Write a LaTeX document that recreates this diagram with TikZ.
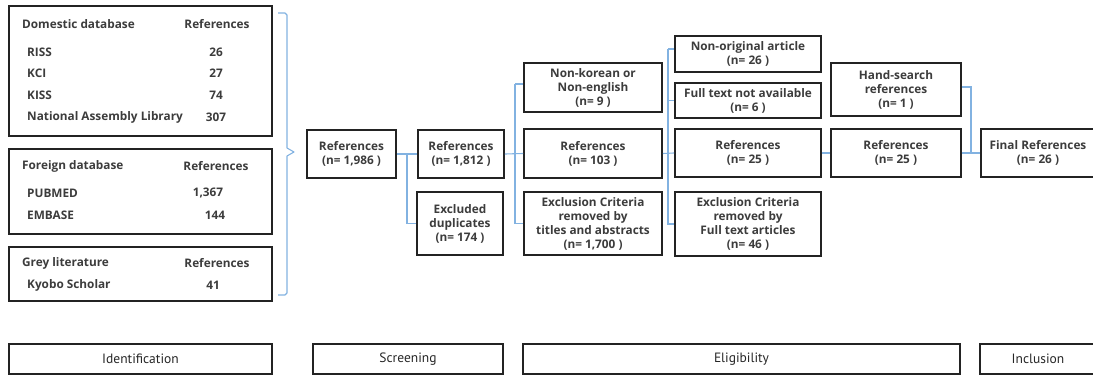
\documentclass[tikz,border=0pt]{standalone}
\usepackage{fontspec}
\setmainfont{Open Sans}
\newfontfamily\condfont{PT Sans}
\definecolor{txt}{RGB}{60,60,60}
\definecolor{conn}{RGB}{130,178,225}
\definecolor{bord}{RGB}{35,35,35}
\begin{document}
\begin{tikzpicture}[x=1pt,y=-1pt,
  every node/.style={font=\bfseries\fontsize{11.8}{14}\selectfont, text=txt, inner sep=0pt},
  box/.style={draw=bord, line width=1.9pt, align=center},
  stage/.style={draw=bord, line width=1.9pt, minimum height=30pt, text=black!85, font=\condfont\fontsize{13.5}{14}\selectfont},
  link/.style={draw=conn, line width=1.1pt},
  lbl/.style={anchor=west},
  val/.style={anchor=center}]
\useasboundingbox (0,0) rectangle (1093,375);

% source database boxes
\node[box, minimum width=263pt, minimum height=130pt] (dom) at (140.5,71) {};
\node[box, minimum width=263pt, minimum height=85pt] (for) at (140.5,191.5) {};
\node[box, minimum width=263pt, minimum height=54pt] (grey) at (140.5,274) {};

\node[lbl] (domh) at (22,24) {Domestic database};
\node[val] (domr) at (217,24) {References};
\node[lbl] (riss) at (27,52) {RISS};
\node[val] (rissv) at (216,52) {26};
\node[lbl] (kci) at (27,73) {KCI};
\node[val] (kciv) at (216,73) {27};
\node[lbl] (kiss) at (27,95) {KISS};
\node[val] (kissv) at (216,95) {74};
\node[lbl] (nal) at (27,117) {National Assembly Library};
\node[val] (nalv) at (216,117) {307};

\node[lbl] (forh) at (22,166) {Foreign database};
\node[val] (forr) at (216,166) {References};
\node[lbl] (pub) at (27,193) {PUBMED};
\node[val] (pubv) at (208,193) {1,367};
\node[lbl] (emb) at (27,215) {EMBASE};
\node[val] (embv) at (215,215) {144};

\node[lbl] (greyh) at (22,263) {Grey literature};
\node[val] (greyr) at (217,263) {References};
\node[lbl] (kyo) at (27,285) {Kyobo Scholar};
\node[val] (kyov) at (213,285) {41};

% brace
\coordinate (bt) at (278,13);
\coordinate (bb) at (278,295);
\coordinate (btip) at (294,152);
\draw[link, line join=round] (bt) -- (285,13) -- (287,15) -- (287,148) -- (btip) -- (287,156) -- (287,293) -- (285,295) -- (bb);

% flow boxes
\node[box, minimum width=89pt, minimum height=48pt] (r1986) at (351.5,154) {References\\(n= 1,986 )};
\node[box, minimum width=86pt, minimum height=48pt] (r1812) at (461,154) {References\\(n= 1,812 )};
\node[box, minimum width=86pt, minimum height=63pt] (dup) at (460,223.5) {Excluded\\duplicates\\(n= 174 )};
\node[box, minimum width=138pt, minimum height=49pt] (nonk) at (593,87.5) {Non-korean or\\Non-english\\(n= 9 )};
\node[box, minimum width=138pt, minimum height=49pt] (r103) at (593,153.5) {References\\(n= 103 )};
\node[box, minimum width=138pt, minimum height=63pt] (exc1) at (593,223.5) {Exclusion Criteria\\removed by\\titles and abstracts\\(n= 1,700 )};
\node[box, minimum width=146pt, minimum height=36pt] (nonorig) at (748,54) {Non-original article\\(n= 26 )};
\node[box, minimum width=146pt, minimum height=35pt] (fulltext) at (748,100.5) {Full text not available\\(n= 6 )};
\node[box, minimum width=146pt, minimum height=48pt] (r25a) at (748,153) {References\\(n= 25 )};
\node[box, minimum width=146pt, minimum height=64pt] (exc2) at (748,224) {Exclusion Criteria\\removed by\\Full text articles\\(n= 46 )};
\node[box, minimum width=130pt, minimum height=53pt] (hand) at (896,89.5) {Hand-search\\references\\(n= 1 )};
\node[box, minimum width=130pt, minimum height=48pt] (r25b) at (896,153) {References\\(n= 25 )};
\node[box, minimum width=114pt, minimum height=48pt] (final) at (1038,153) {Final References\\(n= 26 )};

% stage boxes
\node[stage, minimum width=263pt] (ident) at (140.5,359) {Identification};
\node[stage, minimum width=190pt] (screen) at (408,359) {Screening};
\node[stage, minimum width=437pt] (elig) at (741.5,359) {Eligibility};
\node[stage, minimum width=116pt] (incl) at (1038,359) {Inclusion};

% connectors
\draw[link] (r1986.east) -- (r1812.west);
\draw[link] (r1986.east -| 407,0) |- (dup.west);
\draw[link] (r1812.east) -- (r103.west);
\draw[link] ([yshift=3.5pt]nonk.west -| 515,0) |- (exc1.west);
\draw[link] ([yshift=3.5pt]nonk.west -| 515,0) -- ([yshift=3.5pt]nonk.west);
\draw[link] (r103.east) -- (r25a.west);
\draw[link] ([yshift=5pt]nonorig.west -| 668,0) |- (exc2.west);
\draw[link] ([yshift=5pt]nonorig.west -| 668,0) -- ([yshift=5pt]nonorig.west);
\draw[link] (fulltext.west -| 668,0) -- (fulltext.west);
\draw[link] (r25a.east) -- (r25b.west);
\draw[link] (r25b.east) -- (final.west);
\draw[link] ([yshift=2.5pt]hand.east) -| (971,153);
\end{tikzpicture}
\end{document}
